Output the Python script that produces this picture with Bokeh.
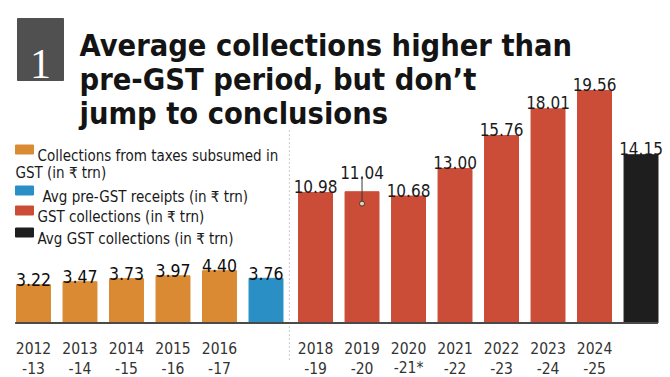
from bokeh.plotting import figure
from bokeh.models import Range1d, Label
from bokeh.core.properties import value
from bokeh.embed import file_html
from bokeh.resources import INLINE

# ---------------- data ----------------
pre_years = ["2012\n-13", "2013\n-14", "2014\n-15", "2015\n-16", "2016\n-17"]
pre_values = [3.22, 3.47, 3.73, 3.97, 4.40]
pre_avg_value = 3.76
gst_years = ["2018\n-19", "2019\n-20", "2020\n-21*", "2021\n-22", "2022\n-23", "2023\n-24", "2024\n-25"]
gst_values = [10.98, 11.04, 10.68, 13.00, 15.76, 18.01, 19.56]
gst_avg_value = 14.15
legend_labels = [
    "Collections from taxes subsumed in\nGST (in \u20b9 trn)",
    "Avg pre-GST receipts (in \u20b9 trn)",
    "GST collections (in \u20b9 trn)",
    "Avg GST collections (in \u20b9 trn)",
]
title_lines = ["Average collections higher than", "pre-GST period, but don\u2019t", "jump to conclusions"]

# ---------------- style ----------------
ORANGE = "#DA8A33"
BLUE = "#2A8FC4"
RED = "#CB4C37"
BLACK = "#1E1E1E"
TXT = "#1a1a1a"
W, H = 670, 377
COND = "DejaVu Sans Condensed"

GAP = 0.065
pre_x = [float(i) for i in range(len(pre_values))]
pre_avg_x = float(len(pre_values))
gst_x = [pre_avg_x + 1 + GAP + i for i in range(len(gst_values))]
gst_avg_x = gst_x[-1] + 1
BW = 0.73
X0, X1 = -0.7097, 13.699
PXU = 46.5     # px per x unit
PYU = 11.89    # px per y unit
BASE = 322.5   # baseline px from top

p = figure(width=W, height=H, output_backend="svg", toolbar_location=None,
           x_range=Range1d(X0, X1), y_range=Range1d(-(H - BASE) / PYU, BASE / PYU),
           min_border=0, x_axis_location=None, y_axis_location=None)
p.grid.visible = False
p.outline_line_color = None
p.background_fill_color = "white"
p.border_fill_color = "white"

def sy(top_px):
    return H - top_px

def dx(px):
    return X0 + px / PXU

def dy(py):
    return (BASE - py) / PYU

# separator
sep_x = (pre_avg_x + gst_x[0]) / 2 - 0.03
p.segment(x0=[sep_x], x1=[sep_x], y0=[dy(359)], y1=[dy(130)],
          line_color="#9a9a9a", line_width=1, line_dash="1 3")

# bars
p.vbar(x=pre_x, top=pre_values, width=BW, color=ORANGE)
p.vbar(x=[pre_avg_x], top=[pre_avg_value], width=BW, color=BLUE)
p.vbar(x=gst_x, top=gst_values, width=BW, color=RED)
p.vbar(x=[gst_avg_x], top=[gst_avg_value], width=BW, color=BLACK)

# baseline
p.segment(x0=[pre_x[0] - BW / 2 - 0.03], x1=[gst_avg_x + BW / 2], y0=[0], y1=[0],
          line_color="#4a4a4a", line_width=2)

# value labels: pre-GST
pv_x = pre_x + [pre_avg_x]
pv_v = pre_values + [pre_avg_value]
p.text(x=pv_x, y=pv_v, text=[f"{v:.2f}" for v in pv_v], text_align="center",
       text_baseline="alphabetic", y_offset=-5, text_font=value(COND),
       text_font_size="17.5px", text_color="#0d0d0d")
# value labels: GST period
gv_x = gst_x[:1] + gst_x[2:] + [gst_avg_x]
gv_v = gst_values[:1] + gst_values[2:] + [gst_avg_value]
p.text(x=gv_x, y=gv_v, text=[f"{v:.2f}" for v in gv_v], text_align="center",
       text_baseline="alphabetic", y_offset=-6, text_font=value(COND),
       text_font_size="17px", text_color=TXT)
# callout label (2019-20)
cx, cv = gst_x[1], gst_values[1]
p.text(x=[cx], y=[cv], text=[f"{cv:.2f}"], text_align="center", text_baseline="alphabetic",
       y_offset=-19, text_font=value(COND), text_font_size="17px", text_color=TXT)
p.segment(x0=[cx], x1=[cx], y0=[cv + 1.3], y1=[cv - 1.0], line_color="#3a3a3a", line_width=1)
p.scatter(x=[cx], y=[cv - 1.0], size=5, fill_color="#f0d0b0", line_color="#3a3a3a", line_width=1)

# year labels
yx = pre_x + gst_x
ylabels = pre_years + gst_years
p.text(x=yx, y=[0] * len(yx), text=[s.split("\n")[0] for s in ylabels], text_align="center",
       text_baseline="alphabetic", y_offset=25, text_font=value(COND),
       text_font_size="15.5px", text_color="#333333")
p.text(x=yx, y=[0] * len(yx), text=[s.split("\n")[1] for s in ylabels], text_align="center",
       text_baseline="alphabetic", y_offset=45, text_font=value(COND),
       text_font_size="15.5px", text_color="#333333")

# title box
p.rect(x=[dx(40)], y=[dy(49)], width=46 / PXU, height=62 / PYU, color="#505050")
p.text(x=[dx(40)], y=[dy(63)], text=["1"], text_align="center", text_baseline="alphabetic",
       text_font=value("Liberation Serif"), text_font_size="42px", text_color="white")
for i, line in enumerate(title_lines):
    p.add_layout(Label(x=79, y=sy(45 + 34 * i), x_units="screen", y_units="screen", text=line,
                       text_font=COND, text_font_style="bold", text_font_size="30.5px",
                       text_color="#141414", text_baseline="alphabetic"))

# legend
leg_colors = [ORANGE, BLUE, RED, BLACK]
leg_base = [155, 196, 216, 238]
leg_tx = [37, 42, 37, 37]
for lab, b, tx in zip(legend_labels, leg_base, leg_tx):
    lines = lab.split("\n")
    p.add_layout(Label(x=tx, y=sy(b), x_units="screen", y_units="screen", text=lines[0],
                       text_font=COND, text_font_size="15px", text_color=TXT,
                       text_baseline="alphabetic"))
    if len(lines) > 1:
        p.add_layout(Label(x=15, y=sy(b + 17), x_units="screen", y_units="screen", text=lines[1],
                           text_font=COND, text_font_size="15px", text_color=TXT,
                           text_baseline="alphabetic"))
p.rect(x=[dx(24)] * 4, y=[dy(b - 6) for b in leg_base], width=18 / PXU,
       height=9 / PYU, color=leg_colors)

open("out.html", "w").write(file_html(p, INLINE))
